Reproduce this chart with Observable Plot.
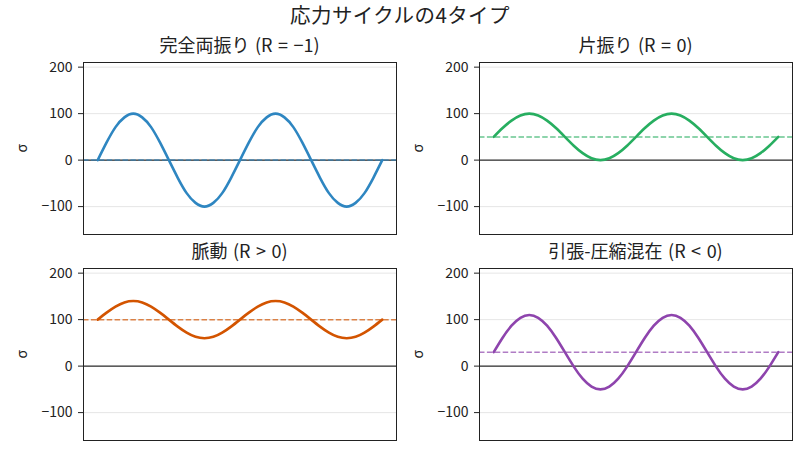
<!DOCTYPE html>
<html>
<head>
<meta charset="utf-8">
<script src="https://cdn.jsdelivr.net/npm/d3@7"></script>
<script src="https://cdn.jsdelivr.net/npm/@observablehq/plot@0.6"></script>
<style>
  body { margin: 0; background: #fff; font-family: "Noto Sans CJK JP", "Noto Sans", sans-serif; }
  #root { position: relative; width: 800px; height: 449px; overflow: hidden; }
  .ttl { position: absolute; transform: translate(-50%, -50%); white-space: nowrap; color: #222; line-height: 1.1; }
  .panel { position: absolute; }
</style>
</head>
<body>
<div id="root"></div>
<script>
// phase samples (step = π/8, two full cycles)
const phase = d3.range(0, 33);
const yTicks = [-100, 0, 100, 200];

const titles = ["完全両振り (R = −1)", "片振り (R = 0)", "脈動 (R > 0)", "引張-圧縮混在 (R < 0)"];
const colors = ["#2E86C1", "#27AE60", "#D35400", "#8E44AD"];
const means = [0, 50, 100, 30];

const fullyReversed = [0, 38, 71, 92, 100, 92, 71, 38, 0, -38, -71, -92, -100, -92, -71, -38,
  0, 38, 71, 92, 100, 92, 71, 38, 0, -38, -71, -92, -100, -92, -71, -38, 0];
const zeroToMax = [50, 69, 85, 96, 100, 96, 85, 69, 50, 31, 15, 4, 0, 4, 15, 31,
  50, 69, 85, 96, 100, 96, 85, 69, 50, 31, 15, 4, 0, 4, 15, 31, 50];
const pulsating = [100, 115, 128, 137, 140, 137, 128, 115, 100, 85, 72, 63, 60, 63, 72, 85,
  100, 115, 128, 137, 140, 137, 128, 115, 100, 85, 72, 63, 60, 63, 72, 85, 100];
const mixed = [30, 61, 87, 104, 110, 104, 87, 61, 30, -1, -27, -44, -50, -44, -27, -1,
  30, 61, 87, 104, 110, 104, 87, 61, 30, -1, -27, -44, -50, -44, -27, -1, 30];

const series = [fullyReversed, zeroToMax, pulsating, mixed];

const root = document.getElementById("root");

function addText(txt, x, y, size, extra) {
  const d = document.createElement("div");
  d.className = "ttl";
  d.textContent = txt;
  d.style.left = x + "px";
  d.style.top = y + "px";
  d.style.fontSize = size + "px";
  if (extra) Object.assign(d.style, extra);
  root.appendChild(d);
}

addText("応力サイクルの4タイプ", 400, 14, 20.5, {letterSpacing: "0.4px", fontWeight: "400", lineHeight: "1"});

const frames = [
  {left: 83, top: 62},
  {left: 479, top: 62},
  {left: 83, top: 268},
  {left: 479, top: 268}
];
const fw = 313, fh = 172, mL = 75, mR = 5, mT = 5, mB = 5;

series.forEach((vals, i) => {
  const data = phase.map((t, j) => ({t, v: vals[j]}));
  const color = colors[i];
  const svg = Plot.plot({
    width: fw + mL + mR,
    height: fh + mT + mB,
    marginLeft: mL, marginRight: mR, marginTop: mT, marginBottom: mB,
    style: {fontFamily: "'Noto Sans CJK JP', 'Noto Sans', sans-serif", fontSize: "14px", color: "#222", background: "transparent"},
    x: {domain: [-1.6, 33.6], axis: null},
    y: {domain: [-160, 210], axis: null},
    marks: [
      Plot.ruleY(yTicks, {stroke: "#e3e3e3", strokeWidth: 0.9}),
      Plot.ruleY([0], {stroke: "black", strokeWidth: 1}),
      Plot.ruleY([means[i]], {stroke: color, strokeOpacity: 0.7, strokeWidth: 1.5, strokeDasharray: "5.5,2.4"}),
      Plot.line(data, {x: "t", y: "v", stroke: color, strokeWidth: 2.6, curve: "natural"}),
      Plot.frame({stroke: "#222", strokeWidth: 1}),
      Plot.axisY(yTicks, {ticks: yTicks, tickSize: 5, tickPadding: 6, fontSize: 14, label: null, stroke: "#222"}),
      Plot.text(["σ"], {frameAnchor: "left", dx: -61, dy: 4, rotate: -90, text: d => d, fontSize: 14, fill: "#222"})
    ]
  });
  svg.classList.add("panel");
  svg.style.left = (frames[i].left - mL) + "px";
  svg.style.top = (frames[i].top - mT) + "px";
  root.appendChild(svg);
  addText(titles[i], frames[i].left + fw / 2, frames[i].top - 17, 18, {wordSpacing: "1.5px"});
});
</script>
</body>
</html>
